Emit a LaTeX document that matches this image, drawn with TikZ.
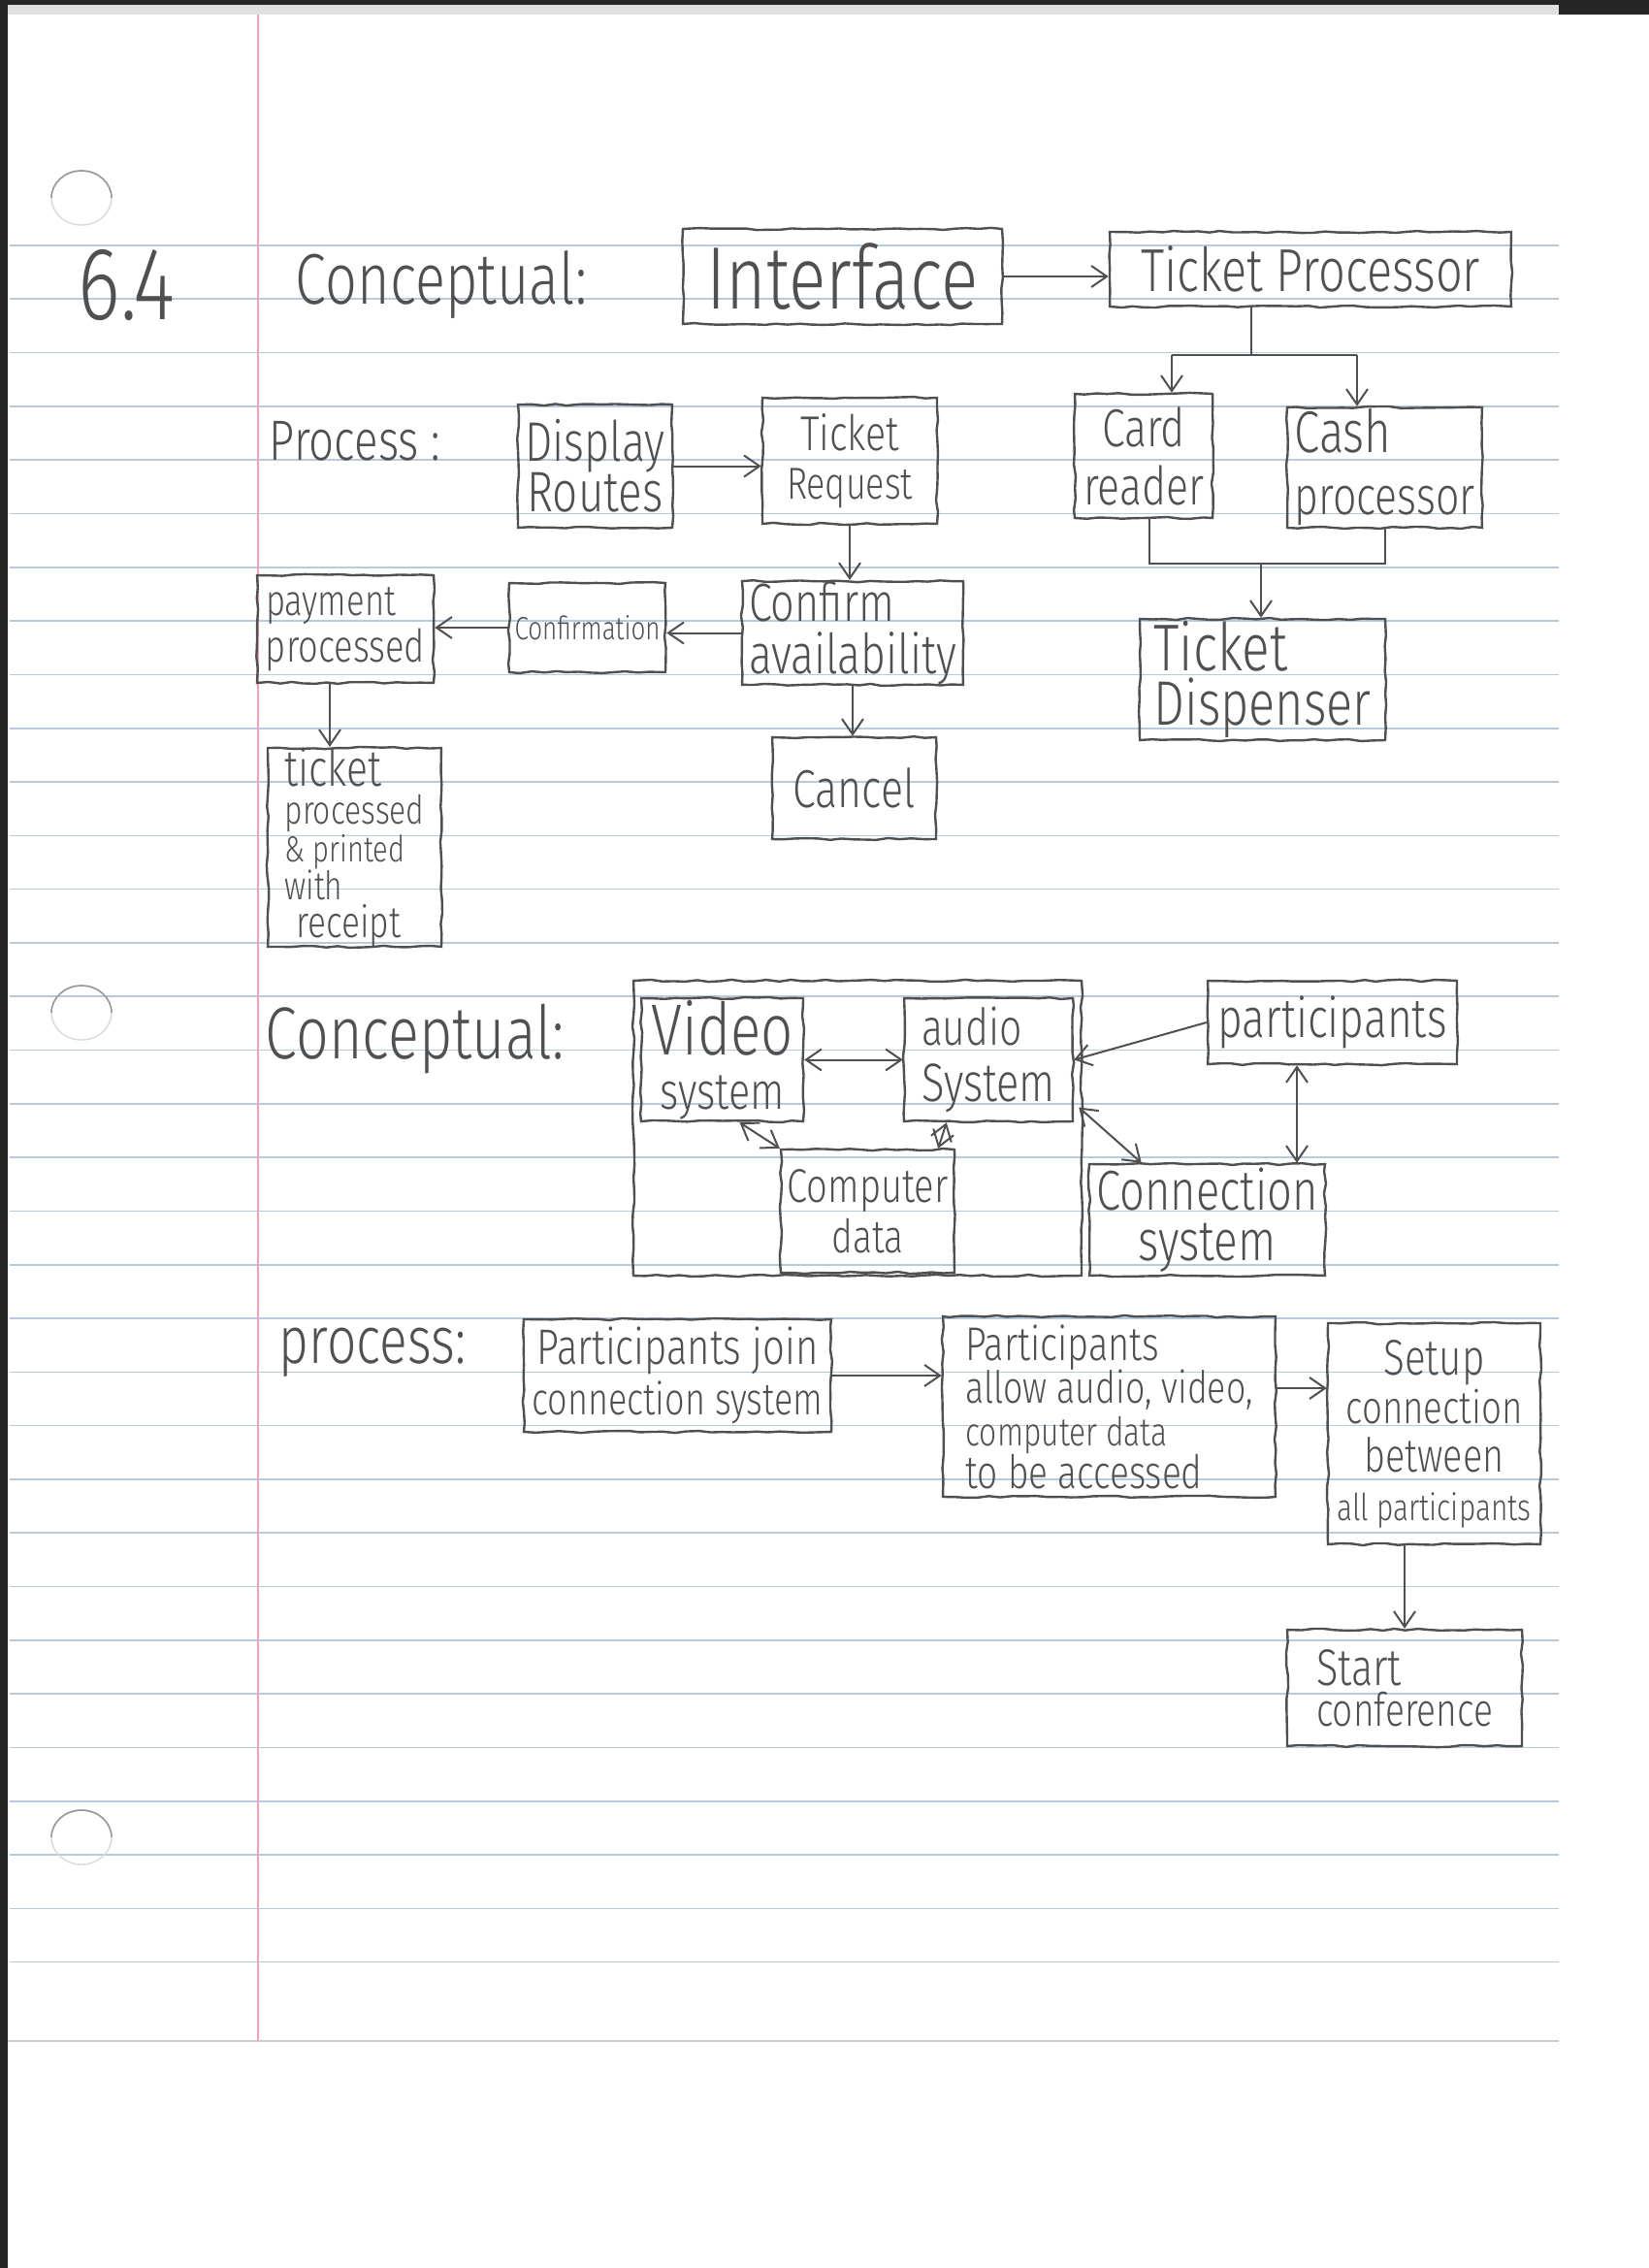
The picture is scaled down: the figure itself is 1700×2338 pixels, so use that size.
\documentclass[tikz,border=0pt]{standalone}
\usepackage{graphicx}
\usepackage{fontspec}
\setmainfont{Fira Sans Light}[FakeStretch=0.78]
\usetikzlibrary{decorations.pathmorphing,arrows.meta,calc}

\definecolor{pencil}{HTML}{505050}
\definecolor{ruled}{HTML}{B8CBDC}
\definecolor{marginred}{HTML}{F0A3B6}

% one handwritten line, stretched to a given width (pt)
\newcommand\wl[2]{\resizebox{#1pt}{!}{#2}}
% stacked lines with a fixed baseline distance (pt): centred / left
\newcommand\stackC[2]{\vbox{\baselineskip=#1pt\lineskiplimit=-100pt\lineskip=0pt\halign{\hfil##\hfil\cr#2\crcr}}}
\newcommand\stackL[2]{\vbox{\baselineskip=#1pt\lineskiplimit=-100pt\lineskip=0pt\halign{##\hfil\cr#2\crcr}}}

\begin{document}
\pgfmathsetseed{4}
\begin{tikzpicture}[x=0.5pt,y=-0.5pt,
  box/.style={draw=pencil,line width=1.2pt,inner sep=0pt,text=pencil,
    decorate,decoration={random steps,segment length=6pt,amplitude=0.55pt},
    font=\fontsize{20}{24}\selectfont},
  sz/.style 2 args={minimum width=#1pt,minimum height=#2pt},
  lbl/.style={inner sep=0pt,text=pencil,font=\fontsize{20}{24}\selectfont},
  pen/.style={draw=pencil,line width=1pt},
  arr/.style={pen,-{Straight Barb[length=8pt,width=11pt]}},
  arrb/.style={pen,{Straight Barb[length=8pt,width=11pt]}-{Straight Barb[length=8pt,width=11pt]}}]

\useasboundingbox (0,0) rectangle (1700,2338);
\fill[white] (0,0) rectangle (1700,2338);

% scanner edges and sheet
\fill[black!12] (0,0) rectangle (1607,15);
\fill[black!85] (0,0) rectangle (1607,5);
\fill[black!85] (1607,0) rectangle (1700,15);
\fill[black!85] (0,0) rectangle (8,2338);
\draw[black!20,line width=0.6pt] (8,2104) -- (1607,2104);

% ruled lines
\foreach \k in {0,...,32}{
  \pgfmathsetmacro\yy{253+55.3*\k}
  \draw[ruled,line width=0.8pt] (10,\yy) -- (1607,\yy);
}
% margin line
\draw[marginred,line width=1.2pt] (266,15) -- (266,2104);
% punched holes
\foreach \yy in {204,1044,1894}{
  \draw[black!15,line width=0.7pt] (84,\yy) ellipse [x radius=31,y radius=28];
  \draw[black!40,line width=0.8pt] (53,\yy) arc[start angle=180,end angle=360,x radius=31,y radius=28];
}

% ---------- ticket machine: conceptual ----------
\node[lbl] (num) at (131,294) {\wl{50}{6.4}};
\node[lbl] (cA) at (455,294) {\wl{150}{Conceptual:}};
\node[box,sz={164.5}{49}] (iface) at (868.5,285) {\wl{140}{Interface}};
\node[box,sz={207}{38.5}] (tproc) at (1351,277.5) {\wl{175}{Ticket Processor}};

% ---------- ticket machine: process ----------
\node[lbl] (pA) at (366,455) {\wl{88}{Process :}};
\node[box,sz={79.5}{63.5}] (routes) at (613.5,480.5) {\stackC{26}{\wl{72}{Display}\cr\wl{70}{Routes}}};
\node[box,sz={90}{65}] (treq) at (876,475) {\stackC{25}{\wl{51}{Ticket}\cr\wl{65}{Request}}};
\node[box,sz={71}{64}] (card) at (1179,470) {\stackC{30}{\wl{43}{Card}\cr\wl{62}{reader}}};
\node[box,sz={100.5}{62}] (cash) at (1427.5,482) {\stackL{32}{\wl{50}{Cash}\cr\wl{93}{processor}}};
\node[box,sz={114}{48.5}] (cavail) at (879,652.5) {\stackL{27}{\wl{75}{Confirm}\cr\wl{107}{availability}}};
\node[box,sz={80.5}{46}] (confm) at (605.5,647) {\wl{75}{Confirmation}};
\node[box,sz={91}{55.5}] (pay) at (356,648.5) {\stackL{24}{\wl{67}{payment}\cr\wl{82}{processed}}};
\node[box,sz={84.5}{52.5}] (cancel) at (880.5,812.5) {\wl{63}{Cancel}};
\node[box,sz={126.5}{62.5}] (tdisp) at (1301.5,700.5) {\stackL{28}{\wl{69}{Ticket}\cr\wl{112}{Dispenser}}};
\node[box,sz={89.5}{95.5}] (tix) at (365.5,873.5)
  {\stackL{19.5}{\wl{50}{ticket}\cr\wl{72}{processed}\cr\wl{62}{\& printed}\cr\wl{30}{with}\cr\hspace{6pt}\wl{54}{receipt}}};

\draw[arr] (iface.east) -- (iface.east -| tproc.west);
\coordinate (tpS) at (1290,366);
\coordinate (tpL) at (1208,366);
\coordinate (tpR) at (1399,366);
\draw[pen] (tpS |- tproc.south) -- (tpS);
\draw[pen] (tpL) -- (tpR);
\draw[arr] (tpL) -- (tpL |- card.north);
\draw[arr] (tpR) -- (tpR |- cash.north);
\coordinate (cjL) at (1185,581);
\coordinate (cjR) at (1428,581);
\coordinate (cjM) at (1300,581);
\draw[pen] (card.south -| cjL) -- (cjL) -- (cjR) -- (cash.south -| cjR);
\draw[arr] (cjM) -- (cjM |- tdisp.north);
\draw[arr] (routes.east) -- (routes.east -| treq.west);
\draw[arr] (treq.south) -- (treq.south |- cavail.north);
\draw[arr] (cavail.west) -- (cavail.west -| confm.east);
\draw[arr] (confm.west) -- (confm.west -| pay.east);
\draw[arr] (cavail.south) -- (cavail.south |- cancel.north);
\coordinate (payX) at (340,0);
\draw[arr] (pay.south -| payX) -- (tix.north -| payX);

% ---------- conference: conceptual ----------
\node[lbl] (cB) at (428,1071) {\wl{154}{Conceptual:}};
\node[box,sz={231}{152}] (group) at (884,1163) {};
\node[box,sz={83.5}{63.5}] (video) at (744.5,1092.5) {\stackC{28}{\wl{73}{Video}\cr\wl{64}{system}}};
\node[box,sz={87}{63.5}] (audio) at (1019,1092.5) {\stackL{29}{\wl{52}{audio}\cr\wl{69}{System}}};
\node[box,sz={89.5}{63.5}] (comp) at (894.5,1248.5) {\stackC{26}{\wl{83}{Computer}\cr\wl{37}{data}}};
\node[box,sz={128.5}{43}] (part) at (1373.5,1054) {\wl{118}{participants}};
\node[box,sz={121.5}{57.5}] (conn) at (1244.5,1257.5) {\stackC{26}{\wl{114}{Connection}\cr\wl{71}{system}}};

\draw[arrb] (video.east) -- (video.east -| audio.west);
\draw[arr] (part.west) -- (audio.east);
\coordinate (auE) at ($(audio.east)+(5,49)$);
\coordinate (cnN) at ($(conn.north west)+(55,0)$);
\draw[arrb] (auE) -- (cnN);
\coordinate (pcX) at (1337,0);
\draw[arrb] (part.south -| pcX) -- (conn.north -| pcX);
\coordinate (viS) at ($(video.south)+(18,0)$);
\draw[arrb] (viS) -- (comp.north west);
\coordinate (auS) at ($(audio.south west)+(45,0)$);
\coordinate (cpN) at ($(comp.north east)+(-18,0)$);
\draw[arrb] (auS) -- (cpN);

% ---------- conference: process ----------
\node[lbl] (pB) at (384,1394) {\wl{96}{process:}};
\node[box,sz={158.5}{58}] (pj) at (698.5,1418) {\stackC{26}{\wl{145}{Participants join}\cr\wl{150}{connection system}}};
\node[box,sz={171.5}{93}] (pa) at (1143.5,1450)
  {\stackL{22}{\wl{100}{Participants}\cr\wl{148}{allow audio, video,}\cr\wl{104}{computer data}\cr\wl{122}{to be accessed}}};
\node[box,sz={109.5}{114}] (setup) at (1478.5,1478)
  {\stackC{25}{\wl{52}{Setup}\cr\wl{91}{connection}\cr\wl{72}{between}\cr\wl{100}{all participants}}};
\node[box,sz={121}{60}] (start) at (1448,1740) {\stackL{21}{\wl{44}{Start}\cr\wl{91}{conference}}};

\draw[arr] (pj.east) -- (pj.east -| pa.west);
\coordinate (paE) at ($(pa.east)+(0,-19)$);
\draw[arr] (paE) -- (paE -| setup.west);
\draw[arr] (start.north |- setup.south) -- (start.north);

\end{tikzpicture}
\end{document}
